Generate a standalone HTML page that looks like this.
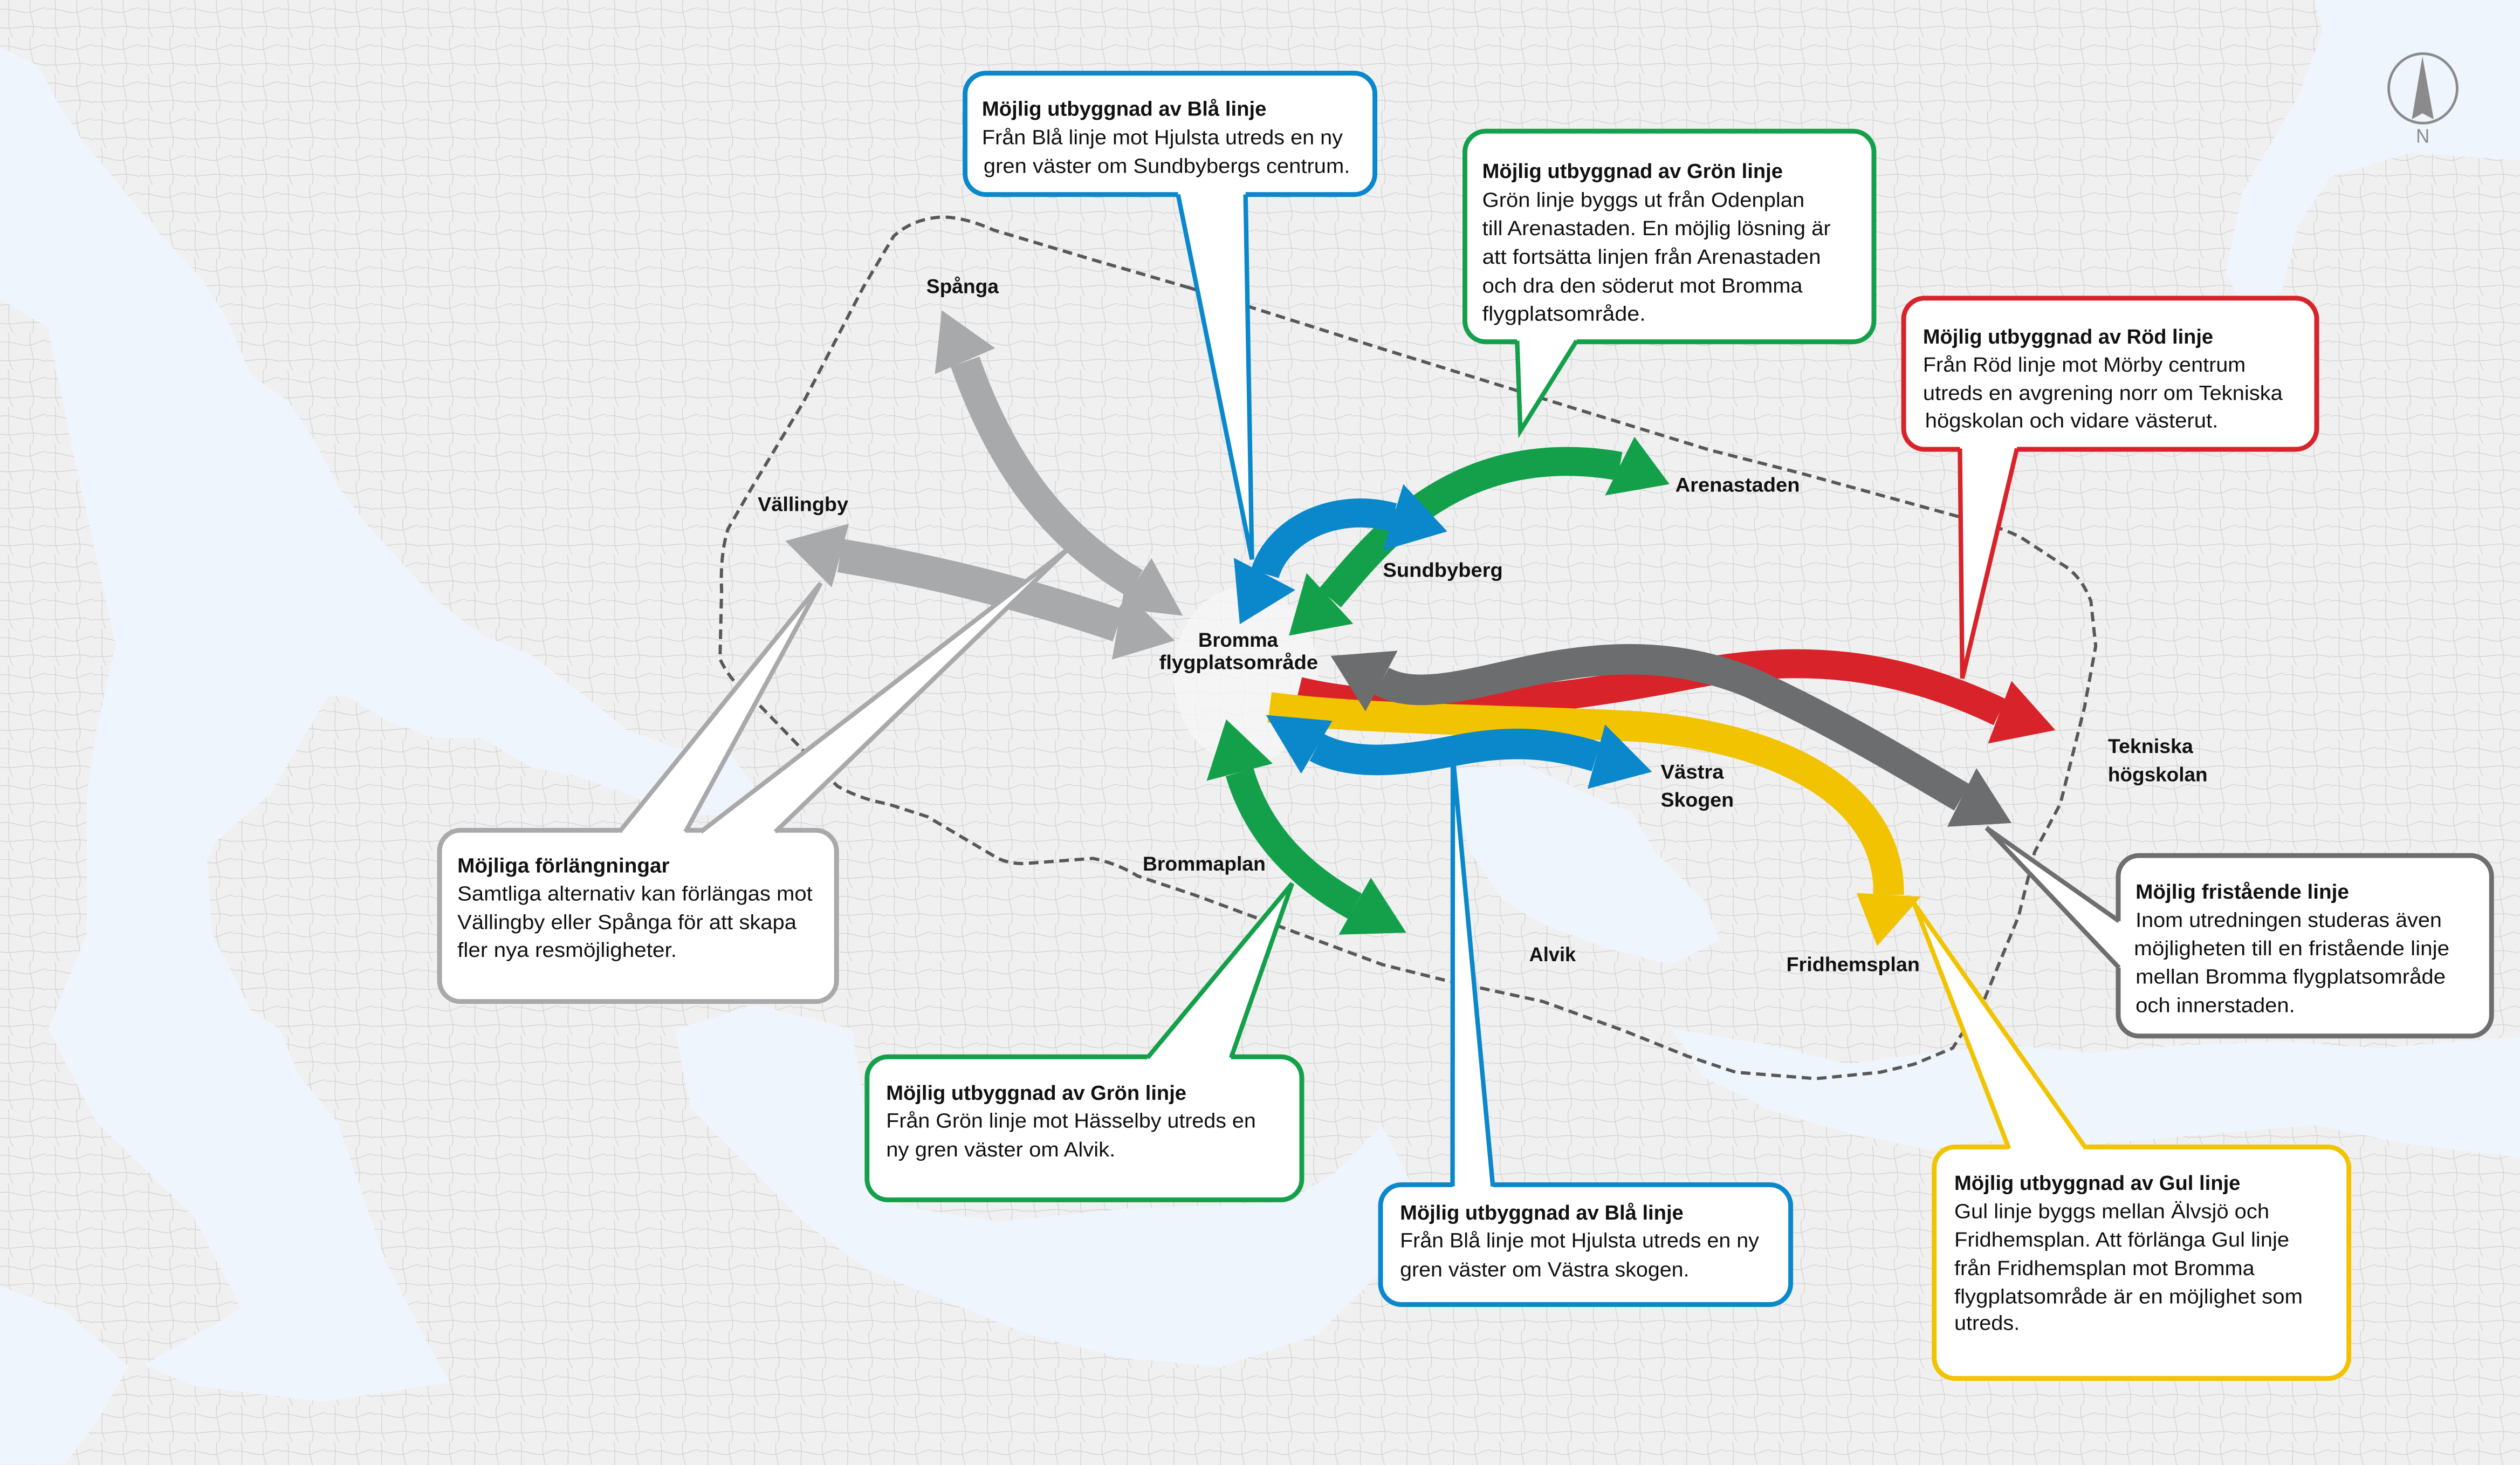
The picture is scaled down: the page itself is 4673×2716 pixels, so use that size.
<!DOCTYPE html>
<html>
<head>
<meta charset="utf-8">
<style>
html,body{margin:0;padding:0;background:#f0f0f0;}
svg{display:block;}
.t{font-family:"Liberation Sans",Arial,sans-serif;font-size:12.6px;fill:#111;}
.b{font-weight:bold;}
.lbl{font-family:"Liberation Sans",Arial,sans-serif;font-size:12.3px;font-weight:bold;fill:#111;}
</style>
</head>
<body>
<svg xmlns="http://www.w3.org/2000/svg" width="4673" height="2716" viewBox="0 0 1568 911.33" preserveAspectRatio="none">
<defs>
<pattern id="roads" width="29" height="23" patternUnits="userSpaceOnUse">
<path d="M0,6 C8,4 14,10 21,7 S29,5 29,5 M5,0 C7,8 3,15 8,23 M19,0 C17,9 23,15 20,23 M0,17 C9,19 18,14 29,18" fill="none" stroke="#d3d3d3" stroke-width="0.45"/>
</pattern>
</defs>
<!-- map background -->
<rect x="0" y="0" width="1568" height="911.33" fill="#f0f0f0"/>
<rect x="0" y="0" width="1568" height="911.33" fill="url(#roads)"/>
<g fill="#eef5fc">
<path d="M0,29 L24,41 L36,64 L51,87 L75,116 L99,145 L126,174 L141,198 L156,233 L180,250 L195,273 L210,302 L228,326 L249,349 L270,372 L300,395 L330,407 L360,430 L390,454 L420,465 L455,470 L470,490 L455,508 L420,506 L390,494 L360,483 L330,477 L300,459 L270,459 L240,448 L216,433 L204,433 L168,494 L135,523 L129,535 L132,581 L156,628 L174,640 L186,669 L210,698 L240,785 L261,826 L280,860 L200,872 L120,862 L90,849 L150,814 L120,756 L60,698 L30,640 L54,581 L54,494 L60,454 L72,401 L45,279 L30,204 L0,186 Z"/>
<path d="M0,800 L40,815 L80,850 L60,885 L40,911 L0,911 Z"/>
<path d="M420,640 L470,625 L530,640 L540,700 L560,750 L620,760 L700,752 L800,748 L830,730 L860,700 L880,740 L860,790 L820,830 L760,850 L700,845 L640,830 L590,810 L540,790 L500,760 L460,720 L430,690 Z"/>
<path d="M905,478 L950,476 L990,495 L1015,505 L1030,530 L1060,560 L1070,585 L1040,600 L1000,590 L960,575 L935,560 L915,530 L905,500 Z"/>
<path d="M1040,640 L1100,650 L1150,662 L1200,655 L1250,650 L1300,655 L1360,650 L1420,648 L1480,652 L1568,645 L1568,720 L1500,712 L1440,700 L1380,705 L1300,712 L1250,708 L1200,715 L1150,705 L1100,690 L1060,670 Z"/>
<path d="M1440,0 L1568,0 L1568,100 L1500,95 L1450,110 L1430,140 L1420,180 L1400,200 L1385,170 L1395,120 L1430,60 L1445,20 Z"/>
</g>
<ellipse cx="775" cy="420" rx="45" ry="55" fill="#f6f6f6" opacity="0.8"/>

<!-- dashed boundary -->
<path d="M740,179 L678,161 L618,143 Q600,135 586,135 Q568,136 556,147 L537,179 L500,250 L468,303 L453,329 Q448,345 449,367 L448,410 Q455,425 470,436 L498,465 L521,489 Q535,497 552,500 L577,508 L621,534 Q630,538 640,537 L680,534 Q695,537 708,545 L744,557 L790,574 L860,600 L900,610 L960,623 L1010,641 L1050,657 L1080,667 L1130,671 L1170,667 L1191,662 L1215,652 L1235,621 L1256,570 L1266,530 L1282,500 L1297,440 L1304,402 L1301,374 Q1295,358 1283,351 L1257,334 Q1240,326 1221,322 L1119,294 L1064,280 L973,252 L860,217 Z" fill="none" stroke="#585858" stroke-width="2" stroke-dasharray="6 3.5"/>

<!-- compass -->
<ellipse cx="1507.6" cy="55" rx="21.3" ry="21.6" fill="none" stroke="#8a8a8a" stroke-width="1.6"/>
<polygon points="1507.3,35 1514.3,74.2 1507.3,70.5 1500.7,74.2" fill="#8a8a8a"/>
<text x="1503.3" y="88.7" font-family="Liberation Sans, Arial, sans-serif" font-size="12" fill="#8a8a8a" textLength="8.4" lengthAdjust="spacingAndGlyphs">N</text>

<!-- light gray arrows -->
<g fill="#a8a9ab">
<path d="M600.5,225 C620,280 650,330 706.3,362.9" fill="none" stroke="#a8a9ab" stroke-width="19"/>
<polygon points="586,193 581.7,232.7 619.2,216.6"/>
<polygon points="736,383 716.5,347.2 696,378.5"/>
<path d="M522.8,345.6 Q610,360 695.7,389" fill="none" stroke="#a8a9ab" stroke-width="21"/>
<polygon points="488.6,336.5 528.2,325.8 517.5,365.4"/>
<polygon points="731,398.5 699.4,367.5 691.9,410.3"/>
</g>

<!-- callout: Möjliga förlängningar (gray left) -->
<g>
<rect x="273.5" y="516.5" width="247" height="106.5" rx="13" fill="#fff" stroke="#a9a9ab" stroke-width="3"/>
<polygon points="385.4,520 385.4,516.5 510.7,362.7 426.5,516.5 426.5,520" fill="#fff"/>
<polyline points="385.4,517.5 510.7,362.7 426.5,517.5" fill="none" stroke="#a9a9ab" stroke-width="2.8"/>
<polygon points="436,520 436,516.5 664.8,341.3 482.4,516.5 482.4,520" fill="#fff"/>
<polyline points="436,517.5 664.8,341.3 482.4,517.5" fill="none" stroke="#a9a9ab" stroke-width="2.8"/>
<text class="t b" x="284.6" y="542.8" textLength="132" lengthAdjust="spacingAndGlyphs">Möjliga förlängningar</text>
<text class="t" x="284.6" y="560.2" textLength="221" lengthAdjust="spacingAndGlyphs">Samtliga alternativ kan förlängas mot</text>
<text class="t" x="284.6" y="578" textLength="211" lengthAdjust="spacingAndGlyphs">Vällingby eller Spånga för att skapa</text>
<text class="t" x="284.6" y="595.3" textLength="136.5" lengthAdjust="spacingAndGlyphs">fler nya resmöjligheter.</text>
</g>

<!-- callout: Blue top -->
<g>
<rect x="600.5" y="45.5" width="255" height="75.5" rx="13" fill="#fff" stroke="#0a88cb" stroke-width="3"/>
<polygon points="733,117 775,117 775,122 779,348 733,122" fill="#fff"/>
<polyline points="733,121 779,348 775,121" fill="none" stroke="#0a88cb" stroke-width="2.8"/>
<text class="t b" x="611" y="72" textLength="177" lengthAdjust="spacingAndGlyphs">Möjlig utbyggnad av Blå linje</text>
<text class="t" x="611" y="89.7" textLength="224.5" lengthAdjust="spacingAndGlyphs">Från Blå linje mot Hjulsta utreds en ny</text>
<text class="t" x="612" y="107.5" textLength="228" lengthAdjust="spacingAndGlyphs">gren väster om Sundbybergs centrum.</text>
</g>

<!-- callout: Green top -->
<g>
<rect x="911.5" y="81.6" width="254.5" height="131" rx="13" fill="#fff" stroke="#14a04b" stroke-width="3"/>
<polygon points="944,209 981,209 981,213 946,268 944,213" fill="#fff"/>
<polyline points="944,212 946,268 981,212" fill="none" stroke="#14a04b" stroke-width="2.8"/>
<text class="t b" x="922.3" y="110.7" textLength="187" lengthAdjust="spacingAndGlyphs">Möjlig utbyggnad av Grön linje</text>
<text class="t" x="922.3" y="128.7" textLength="200.5" lengthAdjust="spacingAndGlyphs">Grön linje byggs ut från Odenplan</text>
<text class="t" x="922.3" y="146.3" textLength="216.8" lengthAdjust="spacingAndGlyphs">till Arenastaden. En möjlig lösning är</text>
<text class="t" x="922.3" y="164" textLength="210.7" lengthAdjust="spacingAndGlyphs">att fortsätta linjen från Arenastaden</text>
<text class="t" x="922.3" y="182" textLength="199.3" lengthAdjust="spacingAndGlyphs">och dra den söderut mot Bromma</text>
<text class="t" x="922.3" y="199.4" textLength="101.7" lengthAdjust="spacingAndGlyphs">flygplatsområde.</text>
</g>

<!-- callout: Red -->
<g>
<rect x="1184.5" y="185.5" width="257" height="94" rx="13" fill="#fff" stroke="#d9232a" stroke-width="3"/>
<polygon points="1219.5,276 1255,276 1255,280 1221,422 1219.5,280" fill="#fff"/>
<polyline points="1219.5,279 1221,422 1255,279" fill="none" stroke="#d9232a" stroke-width="2.8"/>
<text class="t b" x="1196.5" y="213.7" textLength="180.6" lengthAdjust="spacingAndGlyphs">Möjlig utbyggnad av Röd linje</text>
<text class="t" x="1196.5" y="231.2" textLength="200.8" lengthAdjust="spacingAndGlyphs">Från Röd linje mot Mörby centrum</text>
<text class="t" x="1196.5" y="248.8" textLength="223.8" lengthAdjust="spacingAndGlyphs">utreds en avgrening norr om Tekniska</text>
<text class="t" x="1197.8" y="265.9" textLength="182.4" lengthAdjust="spacingAndGlyphs">högskolan och vidare västerut.</text>
</g>

<!-- callout: Green bottom -->
<g>
<rect x="539.5" y="657.4" width="270.5" height="89" rx="13" fill="#fff" stroke="#14a04b" stroke-width="3"/>
<polygon points="714,661 714,657 804,549.6 766,657 766,661" fill="#fff"/>
<polyline points="714,658 804,549.6 766,658" fill="none" stroke="#14a04b" stroke-width="2.8"/>
<text class="t b" x="551.4" y="684.2" textLength="186.8" lengthAdjust="spacingAndGlyphs">Möjlig utbyggnad av Grön linje</text>
<text class="t" x="551.4" y="701.5" textLength="230" lengthAdjust="spacingAndGlyphs">Från Grön linje mot Hässelby utreds en</text>
<text class="t" x="551.4" y="719.4" textLength="142.6" lengthAdjust="spacingAndGlyphs">ny gren väster om Alvik.</text>
</g>

<!-- callout: Blue bottom -->
<g>
<rect x="859" y="737" width="255.2" height="74.5" rx="13" fill="#fff" stroke="#0a88cb" stroke-width="3"/>
<polygon points="903.8,740 903.8,737 904,470 928.9,737 928.9,740" fill="#fff"/>
<polyline points="903.8,738 904,470 928.9,738" fill="none" stroke="#0a88cb" stroke-width="2.8"/>
<text class="t b" x="871.1" y="758.7" textLength="176.4" lengthAdjust="spacingAndGlyphs">Möjlig utbyggnad av Blå linje</text>
<text class="t" x="871.1" y="776" textLength="223.4" lengthAdjust="spacingAndGlyphs">Från Blå linje mot Hjulsta utreds en ny</text>
<text class="t" x="871.1" y="794" textLength="180" lengthAdjust="spacingAndGlyphs">gren väster om Västra skogen.</text>
</g>

<!-- callout: Yellow -->
<g>
<rect x="1203.5" y="713.5" width="258" height="144" rx="13" fill="#fff" stroke="#f1c300" stroke-width="3"/>
<polygon points="1250,717 1250,713 1191,562 1298,713 1298,717" fill="#fff"/>
<polyline points="1250,714.5 1191,562 1298,714.5" fill="none" stroke="#f1c300" stroke-width="2.8"/>
<text class="t b" x="1216" y="740.2" textLength="178" lengthAdjust="spacingAndGlyphs">Möjlig utbyggnad av Gul linje</text>
<text class="t" x="1216" y="757.9" textLength="196" lengthAdjust="spacingAndGlyphs">Gul linje byggs mellan Älvsjö och</text>
<text class="t" x="1216" y="775.5" textLength="208.4" lengthAdjust="spacingAndGlyphs">Fridhemsplan. Att förlänga Gul linje</text>
<text class="t" x="1216" y="793.2" textLength="186.8" lengthAdjust="spacingAndGlyphs">från Fridhemsplan mot Bromma</text>
<text class="t" x="1216" y="810.8" textLength="216.8" lengthAdjust="spacingAndGlyphs">flygplatsområde är en möjlighet som</text>
<text class="t" x="1216" y="827.3" textLength="40.7" lengthAdjust="spacingAndGlyphs">utreds.</text>
</g>

<!-- callout: Gray right -->
<g>
<rect x="1318" y="532.2" width="232.3" height="112.3" rx="13" fill="#fff" stroke="#6e6e70" stroke-width="3"/>
<polygon points="1321,573 1317,573 1236,515 1317,602 1321,602" fill="#fff"/>
<polyline points="1318.5,573 1236,515 1318.5,602" fill="none" stroke="#6e6e70" stroke-width="2.8"/>
<text class="t b" x="1328.8" y="559" textLength="132.8" lengthAdjust="spacingAndGlyphs">Möjlig fristående linje</text>
<text class="t" x="1328.8" y="576.6" textLength="190.5" lengthAdjust="spacingAndGlyphs">Inom utredningen studeras även</text>
<text class="t" x="1327.8" y="594.3" textLength="196.3" lengthAdjust="spacingAndGlyphs">möjligheten till en fristående linje</text>
<text class="t" x="1328.8" y="611.9" textLength="192.9" lengthAdjust="spacingAndGlyphs">mellan Bromma flygplatsområde</text>
<text class="t" x="1328.8" y="629.6" textLength="99.2" lengthAdjust="spacingAndGlyphs">och innerstaden.</text>
</g>

<!-- green upper arrow -->
<g fill="#14a04b">
<path d="M827.5,372 C855,340 905,272 1007.9,290" fill="none" stroke="#14a04b" stroke-width="18"/>
<polygon points="802,395.4 813,356.5 842,388"/>
<polygon points="1038.8,301.2 1017,271.7 998.7,308.2"/>
</g>
<!-- blue upper arrow -->
<g fill="#0a88cb">
<path d="M787,357 C795,330 830,312 866.8,321.8" fill="none" stroke="#0a88cb" stroke-width="18"/>
<polygon points="771.4,388.3 767.7,347 806,367"/>
<polygon points="900.5,330.6 873.2,301.2 860.5,342.4"/>
</g>
<!-- green lower arrow -->
<g fill="#14a04b">
<path d="M771.3,480.4 C780,510 800,540 843,563.7" fill="none" stroke="#14a04b" stroke-width="18"/>
<polygon points="763,447.5 750.8,485.7 791.9,475"/>
<polygon points="875,580.2 853,546 833,581.4"/>
</g>
<!-- red arrow -->
<g fill="#d9232a">
<path d="M808,430 C870,445 960,438 1050,420 C1120,406 1180,412 1244.3,443" fill="none" stroke="#d9232a" stroke-width="18"/>
<polygon points="1278.9,454.2 1251.6,423.6 1237,462.5"/>
</g>
<!-- yellow arrow -->
<g fill="#f1c300">
<path d="M790,440 C850,448 950,448 1020,452 C1100,458 1176,490 1175.2,556.6" fill="none" stroke="#f1c300" stroke-width="19"/>
<polygon points="1168,588.5 1155.2,555.5 1195.2,557.8"/>
</g>
<!-- blue lower arrow -->
<g fill="#0a88cb">
<path d="M819.3,464.9 C840,476 870,474 905,467 C940,460 965,462 993.2,470.7" fill="none" stroke="#0a88cb" stroke-width="19"/>
<polygon points="787.7,444.8 829,448.4 809.6,481.3"/>
<polygon points="1027.9,480.1 998.7,450.7 987.8,490.7"/>
</g>
<!-- dark gray arrow -->
<g fill="#6c6d6f">
<path d="M859.6,423.6 C878,434 905,428 940,420 C990,408 1040,404 1090,425 C1140,448 1180,472 1220.7,496" fill="none" stroke="#6c6d6f" stroke-width="19"/>
<polygon points="828,408 869.6,404.8 849.6,442.5"/>
<polygon points="1251.6,512 1229.8,477.8 1211.6,514.3"/>
</g>

<!-- place labels -->
<text class="lbl" x="576.4" y="182.4" textLength="45" lengthAdjust="spacingAndGlyphs">Spånga</text>
<text class="lbl" x="471.5" y="317.9" textLength="56.3" lengthAdjust="spacingAndGlyphs">Vällingby</text>
<text class="lbl" x="1042.4" y="305.9" textLength="77.5" lengthAdjust="spacingAndGlyphs">Arenastaden</text>
<text class="lbl" x="860.5" y="358.9" textLength="74.6" lengthAdjust="spacingAndGlyphs">Sundbyberg</text>
<text class="lbl" x="745.6" y="402.3" textLength="49.6" lengthAdjust="spacingAndGlyphs">Bromma</text>
<text class="lbl" x="721.3" y="416.2" textLength="98.8" lengthAdjust="spacingAndGlyphs">flygplatsområde</text>
<text class="lbl" x="1311.6" y="468.4" textLength="53" lengthAdjust="spacingAndGlyphs">Tekniska</text>
<text class="lbl" x="1311.6" y="486" textLength="62" lengthAdjust="spacingAndGlyphs">högskolan</text>
<text class="lbl" x="1033.3" y="484.4" textLength="39.3" lengthAdjust="spacingAndGlyphs">Västra</text>
<text class="lbl" x="1033.3" y="501.8" textLength="45.5" lengthAdjust="spacingAndGlyphs">Skogen</text>
<text class="lbl" x="711" y="541.5" textLength="76.5" lengthAdjust="spacingAndGlyphs">Brommaplan</text>
<text class="lbl" x="951.5" y="597.9" textLength="29" lengthAdjust="spacingAndGlyphs">Alvik</text>
<text class="lbl" x="1111.5" y="604.2" textLength="83" lengthAdjust="spacingAndGlyphs">Fridhemsplan</text>
</svg>
</body>
</html>
